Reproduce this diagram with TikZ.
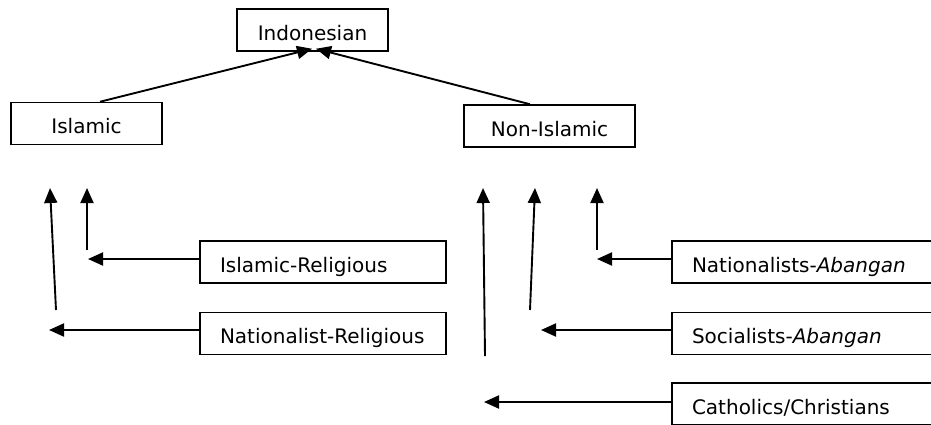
\documentclass[tikz,border=0pt]{standalone}
\usepackage{fontspec}
\setmainfont{DejaVu Sans}
\usetikzlibrary{arrows.meta}
\tikzset{
    boxnode/.style={
        rectangle,
        draw=black, % thin black frame
        line width=1.5pt,
        minimum height=42pt,
        inner sep=0,
        text height=20pt, % baseline sits low in the box
        text depth=0pt,
        font=\fontsize{20pt}{24pt}\selectfont
    },
    groupnode/.style={
        boxnode,
        text width=206pt, % text starts 20pt in from the left side
        inner xsep=20pt,
        align=left
    },
    widenode/.style={
        groupnode,
        text width=240pt % runs off the right edge
    },
    link/.style={
        line width=1.9pt,
        -{Triangle[length=15pt,width=13pt]}
    }
}
\begin{document}
\begin{tikzpicture}[x=1pt, y=-1pt]
    \path[use as bounding box, clip] (0,0) rectangle (931,424);
    % top level
    \node[boxnode, minimum width=151pt] (indo) at (312.5,30) {Indonesian};
    \node[boxnode, minimum width=151pt] (islamic) at (86.5,123.5) {Islamic};
    \node[boxnode, minimum width=171pt] (nonislamic) at (549.5,126) {Non-Islamic};
    % groups
    \node[groupnode] (isrel) at (323,262) {Islamic-Religious};
    \node[groupnode] (natrel) at (323,333.5) {Nationalist-Religious};
    \node[widenode] (natab) at (812,262) {Nationalists-\textit{Abangan}};
    \node[widenode] (socab) at (812,333.5) {Socialists-\textit{Abangan}};
    \node[widenode] (cathchr) at (812,404) {Catholics/Christians};
    % free ends
    \coordinate (isrelend) at (88,259);
    \coordinate (natrelend) at (49,330);
    \coordinate (natabend) at (597,259);
    \coordinate (socabend) at (541,330);
    \coordinate (cathchrend) at (484,402);
    \coordinate (islamicup1) at (50,188);
    \coordinate (islamicup2) at (87,188);
    \coordinate (nonislamicup1) at (483,188);
    \coordinate (nonislamicup2) at (535,188);
    \coordinate (nonislamicup3) at (597,188);
    % arrows
    \draw[link] ([xshift=13.5pt]islamic.north) -- ([xshift=-0.5pt,yshift=3pt]indo.south);
    \draw[link] ([xshift=-19.5pt]nonislamic.north) -- ([xshift=3.5pt,yshift=3pt]indo.south);
    \draw[link] ([yshift=3pt]isrel.west) -- (isrelend);
    \draw[link] ([yshift=3.5pt]natrel.west) -- (natrelend);
    \draw[link] ([yshift=3pt]natab.west) -- (natabend);
    \draw[link] ([yshift=3.5pt]socab.west) -- (socabend);
    \draw[link] ([yshift=2pt]cathchr.west) -- (cathchrend);
    \draw[link] (56,310) -- (islamicup1);
    \draw[link] (87,250) -- (islamicup2);
    \draw[link] (485,356) -- (nonislamicup1);
    \draw[link] (530,310) -- (nonislamicup2);
    \draw[link] (597,250) -- (nonislamicup3);
\end{tikzpicture}
\end{document}
